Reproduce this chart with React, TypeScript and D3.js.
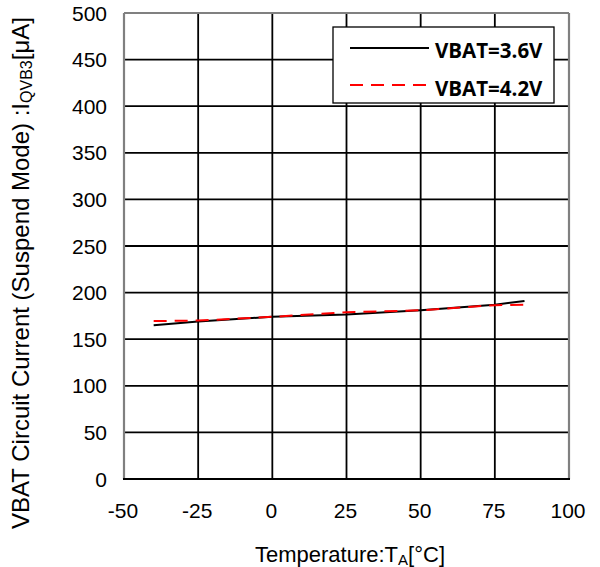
import React from "react";
import * as d3 from "d3";

const temps = [-40, -25, 0, 25, 50, 75, 85];
const vbat36 = [165, 169, 174, 176.5, 181, 187, 191];
const vbat42 = [169.5, 170, 174, 179, 181, 186.5, 187];
const xTicks = [-50, -25, 0, 25, 50, 75, 100];
const yTicks = [0, 50, 100, 150, 200, 250, 300, 350, 400, 450, 500];
const seriesNames = ["VBAT=3.6V", "VBAT=4.2V"];

export default function App() {
  const W = 600, H = 567;
  const x = d3.scaleLinear().domain([-50, 100]).range([124, 569]);
  const y = d3.scaleLinear().domain([0, 500]).range([479, 13]);
  const line = d3.line<number>().x((_, i) => x(temps[i])).y((d) => y(d));
  const font = "'Liberation Sans', Arial, sans-serif";
  return (
    <svg width={W} height={H} style={{ position: "absolute", left: 0, top: 0, background: "#fff" }}>
      <rect x={0} y={0} width={W} height={H} fill="#fff" />
      {xTicks.slice(1, -1).map((t) => (
        <line key={"gx" + t} x1={x(t)} x2={x(t)} y1={y(500)} y2={y(0)} stroke="#000" strokeWidth={1.8} />
      ))}
      {yTicks.slice(1, -1).map((t) => (
        <line key={"gy" + t} x1={x(-50)} x2={x(100)} y1={y(t)} y2={y(t)} stroke="#000" strokeWidth={1.8} />
      ))}
      <line x1={x(-50)} x2={x(100)} y1={y(500)} y2={y(500)} stroke="#808080" strokeWidth={2} />
      <line x1={x(-50)} x2={x(-50)} y1={y(500)} y2={y(0)} stroke="#808080" strokeWidth={2.2} />
      <line x1={x(100)} x2={x(100)} y1={y(500)} y2={y(0)} stroke="#808080" strokeWidth={2.2} />
      <line x1={x(-50) - 1} x2={x(100) + 1} y1={y(0)} y2={y(0)} stroke="#000" strokeWidth={2} />
      <path d={line(vbat36) || ""} fill="none" stroke="#000" strokeWidth={2} />
      <path d={line(vbat42) || ""} fill="none" stroke="#ff0000" strokeWidth={2} strokeDasharray="13,8" />
      {yTicks.map((t) => (
        <text key={"yl" + t} x={107} y={y(t) + 7.5} textAnchor="end" fontFamily={font} fontSize={21} fill="#000">
          {t}
        </text>
      ))}
      {xTicks.map((t) => (
        <text key={"xl" + t} x={x(t) - 1} y={518} textAnchor="middle" fontFamily={font} fontSize={21} fill="#000">
          {t}
        </text>
      ))}
      <text x={350} y={562} textAnchor="middle" fontFamily={font} fontSize={22} fill="#000">
        Temperature:T<tspan fontSize={15} dy={3}>A</tspan>
        <tspan dy={-3}>[°C]</tspan>
      </text>
      <text
        transform={`translate(29,${273}) rotate(-90)`}
        textAnchor="middle"
        fontFamily={font}
        fontSize={24}
        fill="#000"
      >
        VBAT Circuit Current (Suspend Mode) :I<tspan fontSize={16} dy={3}>QVB3</tspan>
        <tspan dy={-3}>[μA]</tspan>
      </text>
      <rect x={333} y={27} width={221} height={76} fill="#fff" stroke="#000" strokeWidth={1.3} />
      <line x1={350} x2={429} y1={48} y2={48} stroke="#000" strokeWidth={2} />
      <line x1={350} x2={429} y1={85} y2={85} stroke="#ff0000" strokeWidth={2} strokeDasharray="13,8" />
      {seriesNames.map((n, i) => (
        <text key={n} x={435} y={57.5 + i * 38.5} fontFamily="'Open Sans', sans-serif" fontWeight="bold" fontSize={20.5} fill="#000">
          {n}
        </text>
      ))}
    </svg>
  );
}
